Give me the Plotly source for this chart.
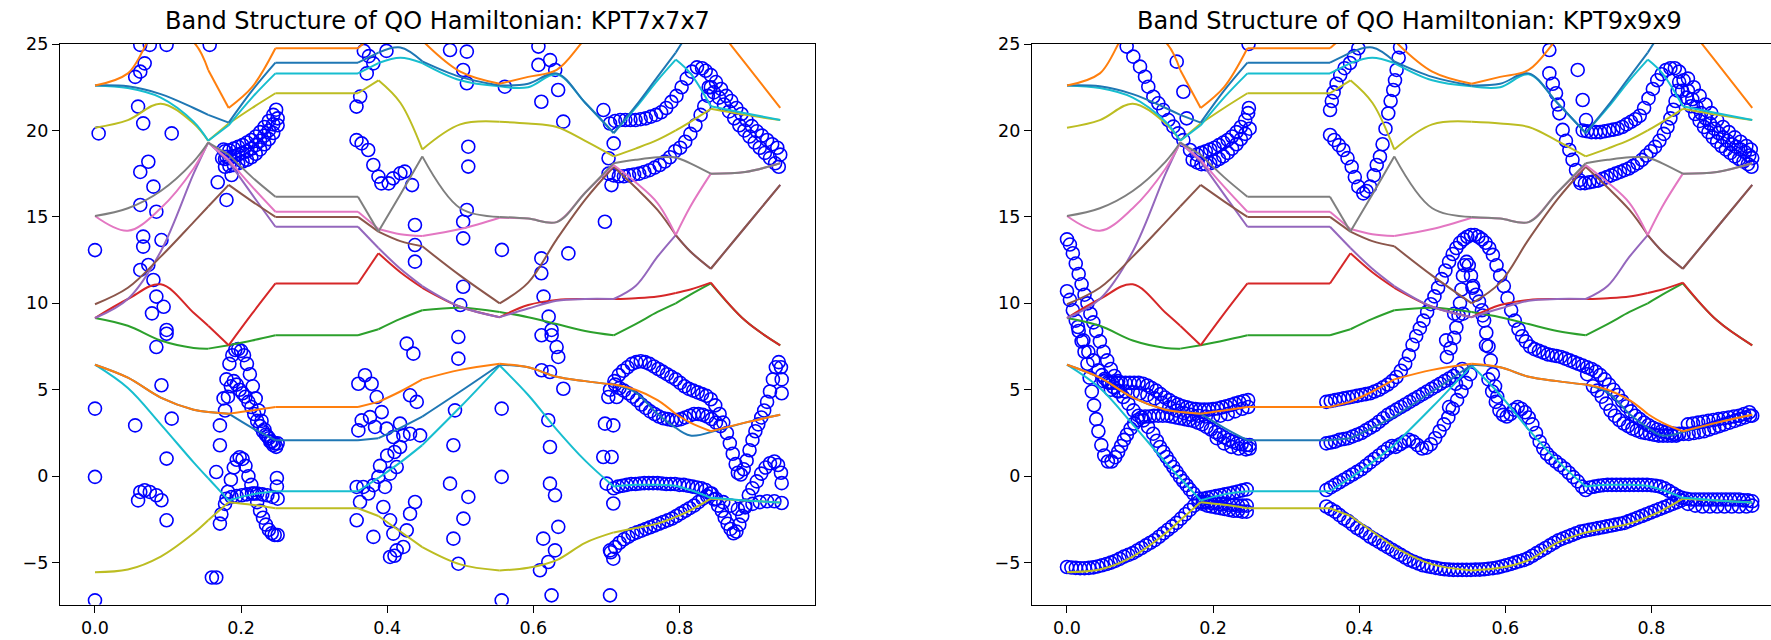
import plotly.graph_objects as go

# ---------------- band data (k-grid shared by both panels) ----------------
K_GRID = [0.0, 0.045, 0.09, 0.135, 0.155, 0.183, 0.215, 0.247, 0.36, 0.388, 0.418, 0.448,
          0.5, 0.554, 0.593, 0.632, 0.671, 0.71, 0.74, 0.77, 0.795, 0.815, 0.843, 0.89, 0.938]
SEGMENT_BREAKS = [0, 4, 5, 7, 8, 9, 11, 13, 17, 20, 22, 24]

OLIVE_LO = [-5.55, -5.4, -4.65, -3.3, -2.55, -1.5, -1.65, -1.85, -1.85, -2.3, -3.2, -4.1, -5.1, -5.45, -5.3, -4.85, -3.85, -3.25, -3.0, -2.74, -2.35, -1.97, -1.3, -1.4, -1.52]
CYAN_LO = [6.45, 5.1, 3.0, 0.8, -0.12, -1.4, -1.05, -0.87, -0.87, -0.1, 0.8, 1.8, 4.0, 6.4, 4.7, 2.7, 0.9, -0.6, -0.5, -0.5, -0.55, -0.8, -1.25, -1.4, -1.52]
BLUE_LO = [6.45, 5.7, 4.55, 3.85, 3.72, 3.62, 2.8, 2.08, 2.08, 2.2, 2.8, 3.45, 4.9, 6.45, 6.3, 5.75, 5.5, 5.3, 4.85, 3.6, 2.8, 2.35, 2.55, 3.1, 3.55]
ORANGE_LO = [6.45, 5.7, 4.55, 3.85, 3.72, 3.62, 3.8, 4.0, 4.0, 4.3, 4.9, 5.6, 6.15, 6.5, 6.3, 5.75, 5.5, 5.3, 5.0, 4.4, 3.6, 3.1, 2.6, 3.1, 3.55]
GREEN = [9.15, 8.7, 7.85, 7.42, 7.38, 7.57, 7.85, 8.15, 8.15, 8.5, 9.1, 9.6, 9.75, 9.5, 9.2, 8.8, 8.4, 8.15, 8.8, 9.5, 10.0, 10.5, 11.15, 9.0, 7.57]
RED = [9.15, 10.25, 11.1, 9.45, 8.7, 7.57, 9.4, 11.15, 11.15, 12.9, 11.8, 10.9, 9.8, 9.2, 9.9, 10.2, 10.25, 10.25, 10.3, 10.4, 10.6, 10.8, 11.2, 9.0, 7.57]
PURPLE = [9.15, 10.25, 13.0, 17.5, 19.3, 18.2, 16.3, 14.43, 14.43, 13.2, 12.0, 11.0, 9.8, 9.2, 9.7, 10.15, 10.25, 10.25, 11.0, 12.7, 13.95, 13.0, 12.0, 14.4, 16.85]
BROWN = [9.95, 10.9, 12.7, 14.7, 15.6, 16.85, 15.9, 15.0, 15.0, 14.15, 13.6, 13.3, 11.6, 10.0, 11.2, 13.7, 16.0, 17.9, 16.7, 15.4, 13.95, 13.0, 12.0, 14.4, 16.85]
PINK = [15.05, 14.2, 15.5, 17.8, 19.3, 18.3, 16.75, 15.3, 15.3, 14.3, 14.0, 13.9, 14.3, 14.95, 14.9, 14.7, 16.4, 18.0, 17.0, 15.8, 13.95, 15.6, 17.5, 17.6, 18.1]
GRAY = [15.05, 15.5, 16.5, 18.2, 19.3, 18.6, 17.3, 16.17, 16.17, 14.15, 16.3, 18.5, 15.5, 15.0, 14.9, 14.7, 16.4, 18.1, 18.3, 18.45, 18.45, 18.1, 17.5, 17.6, 18.1]
OLIVE_HI = [20.15, 20.6, 21.55, 20.4, 19.4, 20.4, 21.3, 22.15, 22.15, 22.9, 21.6, 18.9, 20.35, 20.5, 20.4, 20.2, 19.4, 18.5, 18.95, 19.45, 20.0, 20.5, 21.25, 20.9, 20.6]
CYAN_HI = [22.6, 22.45, 21.9, 20.5, 19.4, 20.3, 21.9, 23.3, 23.3, 23.9, 24.2, 23.9, 22.9, 22.55, 22.5, 23.25, 21.6, 19.85, 21.3, 22.9, 24.1, 23.3, 21.4, 21.0, 20.6]
BLUE_HI = [22.6, 22.55, 22.1, 21.3, 20.9, 20.45, 22.3, 23.92, 23.92, 24.5, 24.8, 24.0, 23.1, 22.6, 22.7, 23.3, 21.6, 19.85, 21.4, 23.1, 24.5, 25.8, 27.4, 29.0, 30.0]
ORANGE_HI = [22.6, 23.3, 26.0, 25.1, 23.5, 21.3, 22.5, 24.75, 24.75, 25.8, 26.2, 25.2, 23.4, 22.7, 23.1, 23.5, 25.3, 27.0, 28.0, 28.0, 28.0, 27.6, 26.4, 23.9, 21.3]

BANDS = [OLIVE_LO, CYAN_LO, BLUE_LO, ORANGE_LO, GREEN, RED, PURPLE, BROWN,
         PINK, GRAY, OLIVE_HI, CYAN_HI, BLUE_HI, ORANGE_HI]
BAND_COLORS = ["#bcbd22", "#17becf", "#1f77b4", "#ff7f0e", "#2ca02c", "#d62728", "#9467bd",
               "#8c564b", "#e377c2", "#7f7f7f", "#bcbd22", "#17becf", "#1f77b4", "#ff7f0e"]

# ---------------- scatter data, KPT7x7x7 (left) ----------------
L_SPARSE = [
    [0.005, 19.83], [0.0, 13.08], [0.055, 23.1], [0.062, 23.4], [0.068, 23.88], [0.059, 21.38], [0.066, 20.41],
    [0.062, 24.95], [0.075, 24.95], [0.098, 24.95], [0.157, 24.95], [0.105, 19.83], [0.073, 18.19], [0.062, 17.6],
    [0.08, 16.75], [0.062, 15.69], [0.084, 15.3], [0.066, 13.86], [0.066, 13.28], [0.091, 13.66], [0.073, 12.22],
    [0.062, 11.93], [0.08, 11.35], [0.084, 10.39], [0.078, 9.42], [0.094, 9.8], [0.098, 8.46],
    [0.18, 18.48], [0.187, 17.42], [0.18, 15.98], [0.168, 17.0], [0.176, 18.9],
    [0.358, 21.38], [0.363, 21.96], [0.372, 23.3], [0.381, 23.88], [0.399, 24.6], [0.375, 24.3], [0.368, 24.6],
    [0.358, 19.44], [0.365, 19.25], [0.374, 18.87], [0.381, 18.0], [0.388, 17.33], [0.392, 16.94], [0.402, 16.94],
    [0.408, 17.23], [0.418, 17.52], [0.424, 17.62], [0.434, 16.84], [0.438, 14.53], [0.438, 13.37], [0.438, 12.41],
    [0.486, 24.65], [0.509, 24.56], [0.504, 23.5], [0.509, 22.73], [0.561, 22.53], [0.607, 24.85], [0.607, 23.79],
    [0.623, 24.07], [0.63, 23.5], [0.634, 22.34], [0.611, 21.66], [0.641, 20.51], [0.511, 19.06], [0.511, 17.91],
    [0.696, 21.18], [0.71, 19.25], [0.703, 18.39], [0.707, 16.84], [0.698, 14.72], [0.509, 15.4], [0.504, 14.72],
    [0.504, 13.76], [0.557, 13.09], [0.611, 12.6], [0.648, 12.89], [0.611, 11.74], [0.504, 10.96], [0.5, 9.9],
    [0.614, 10.39], [0.621, 9.23], [0.625, 8.46],
    [0.0, 3.91], [0.0, -0.04], [0.0, -7.18], [0.055, 2.94], [0.059, -1.4], [0.062, -0.91], [0.068, -0.81],
    [0.075, -0.91], [0.084, -1.1], [0.091, -1.39], [0.098, -2.55], [0.098, 1.02], [0.105, 3.33], [0.091, 5.26],
    [0.084, 7.47], [0.098, 8.24], [0.16, -5.86], [0.166, -5.86], [0.171, 2.94], [0.171, 1.79], [0.166, 0.24],
    [0.171, -2.74], [0.173, -2.2],
    [0.3605, 5.35], [0.3696, 5.84], [0.3787, 5.35], [0.3856, 4.58], [0.3605, 2.65], [0.3651, 3.23], [0.3765, 3.42],
    [0.3833, 2.85], [0.3925, 3.71], [0.3993, 2.75], [0.4084, 2.27], [0.4176, 3.04], [0.4221, 2.36], [0.4313, 2.46],
    [0.445, 2.36], [0.3582, -0.62], [0.3628, -1.49], [0.3673, -0.62], [0.3742, -1.0], [0.3811, -0.52], [0.3879, -0.04],
    [0.397, -0.62], [0.4039, 0.15], [0.413, 0.53], [0.4176, 1.69], [0.3902, 0.6], [0.3947, -1.78], [0.4039, -2.55],
    [0.4084, -3.32], [0.413, -4.29], [0.4039, -4.67], [0.4221, -4.09], [0.4267, -3.13], [0.4313, -2.17],
    [0.4381, -1.49], [0.4404, 4.3], [0.4313, 4.68], [0.4267, 7.67], [0.4358, 7.09], [0.3582, -2.55], [0.3811, -3.51],
    [0.41, -4.6], [0.4, 1.2], [0.41, 1.4],
    [0.4974, 8.05], [0.4974, 6.8], [0.4928, 3.81], [0.4906, 1.79], [0.486, -0.43], [0.5111, -1.2], [0.5043, -2.45],
    [0.4906, -3.61], [0.4974, -5.06], [0.5567, 3.91], [0.5567, -0.04], [0.5567, -7.18], [0.6113, 8.15], [0.6251, 8.15],
    [0.6319, 7.47], [0.6342, 6.9], [0.6113, 6.13], [0.6228, 6.03], [0.6411, 5.06], [0.6205, 3.24], [0.6228, 1.69],
    [0.6228, -0.43], [0.6297, -1.1], [0.6342, -2.93], [0.6136, -3.61], [0.6297, -4.29], [0.6205, -4.96],
    [0.6091, -5.44], [0.625, -6.89], [0.7027, 4.58], [0.7141, 4.58], [0.6981, 3.04], [0.7095, 2.94], [0.6958, 1.11],
    [0.7072, 1.11], [0.7004, -0.43], [0.7095, -1.58], [0.705, -4.29], [0.7095, -4.77], [0.705, -6.89],
]
L_BLOB_TOP = [
    [0.178, 17.9], [0.184, 17.95], [0.19, 18.0], [0.196, 18.1], [0.202, 18.2], [0.208, 18.3], [0.214, 18.45],
    [0.22, 18.65], [0.226, 18.9], [0.232, 19.2], [0.238, 19.5], [0.244, 19.85], [0.25, 20.3],
    [0.178, 18.35], [0.184, 18.4], [0.19, 18.5], [0.196, 18.6], [0.202, 18.7], [0.208, 18.8], [0.214, 18.95],
    [0.22, 19.15], [0.226, 19.4], [0.232, 19.7], [0.238, 20.0], [0.244, 20.35], [0.25, 20.7],
    [0.178, 18.8], [0.184, 18.85], [0.19, 18.95], [0.196, 19.05], [0.202, 19.15], [0.208, 19.3], [0.214, 19.45],
    [0.22, 19.65], [0.226, 19.9], [0.232, 20.2], [0.238, 20.55], [0.244, 20.9], [0.248, 21.2], [0.174, 18.4],
]
L_ARCHES = [
    [0.176, 4.5], [0.18, 5.6], [0.184, 6.5], [0.188, 7.0], [0.192, 7.3], [0.196, 7.35], [0.2, 7.25], [0.204, 7.0],
    [0.208, 6.5], [0.212, 5.9], [0.216, 5.2], [0.22, 4.5], [0.224, 3.8], [0.228, 3.2], [0.232, 2.7], [0.236, 2.3],
    [0.24, 2.0], [0.244, 1.8], [0.248, 1.7],
    [0.178, 3.8], [0.182, 4.6], [0.186, 5.2], [0.19, 5.5], [0.194, 5.3], [0.198, 5.0], [0.202, 4.8], [0.206, 4.6],
    [0.21, 4.3], [0.214, 4.0], [0.218, 3.6], [0.222, 3.2], [0.226, 2.9], [0.23, 2.6], [0.234, 2.4], [0.238, 2.2],
    [0.242, 2.0], [0.246, 1.9], [0.25, 1.9],
    [0.178, -1.6], [0.182, -0.9], [0.186, -0.2], [0.19, 0.5], [0.194, 0.95], [0.198, 1.1], [0.202, 1.0],
    [0.206, 0.6], [0.21, 0.0], [0.214, -0.5], [0.218, -1.0], [0.222, -1.5], [0.226, -2.0], [0.23, -2.4],
    [0.234, -2.8], [0.238, -3.1], [0.242, -3.3], [0.246, -3.4], [0.25, -3.4],
    [0.18, -1.3], [0.187, -1.2], [0.194, -1.15], [0.201, -1.1], [0.208, -1.05], [0.215, -1.0], [0.222, -1.0],
    [0.229, -1.05], [0.236, -1.1], [0.243, -1.2], [0.25, -1.3], [0.249, -0.1], [0.249, -0.6],
]
L_RIGHT_UPPER = [
    [0.705, 20.4], [0.712, 20.55], [0.719, 20.6], [0.726, 20.6], [0.733, 20.6], [0.74, 20.6], [0.747, 20.65],
    [0.754, 20.7], [0.761, 20.8], [0.768, 20.9], [0.775, 21.05], [0.782, 21.3], [0.789, 21.65], [0.796, 22.0],
    [0.803, 22.5], [0.81, 23.0], [0.817, 23.4], [0.824, 23.65], [0.831, 23.6],
    [0.836, 23.45], [0.843, 23.2], [0.85, 22.8], [0.857, 22.4], [0.864, 22.0], [0.871, 21.7], [0.878, 21.3],
    [0.885, 20.95], [0.892, 20.6], [0.899, 20.25], [0.906, 19.95], [0.913, 19.7], [0.92, 19.45], [0.927, 19.2],
    [0.934, 19.0], [0.938, 18.6],
    [0.84, 22.5], [0.847, 22.2], [0.854, 21.9], [0.861, 21.5], [0.868, 21.1], [0.875, 20.7], [0.882, 20.3],
    [0.889, 20.0], [0.896, 19.65], [0.903, 19.3], [0.91, 19.0], [0.917, 18.7], [0.924, 18.4], [0.931, 18.1],
    [0.936, 17.9],
    [0.703, 17.5], [0.71, 17.4], [0.717, 17.35], [0.724, 17.35], [0.731, 17.4], [0.738, 17.45], [0.745, 17.5],
    [0.752, 17.6], [0.759, 17.7], [0.766, 17.85], [0.773, 18.0], [0.78, 18.2], [0.787, 18.45], [0.794, 18.8],
    [0.801, 19.0], [0.808, 19.35], [0.815, 19.8], [0.822, 20.3], [0.829, 20.9], [0.834, 21.4], [0.839, 22.0],
    [0.843, 22.5],
]
L_RIGHT_LOWER = [
    [0.705, 5.0], [0.711, 5.5], [0.717, 5.85], [0.723, 6.1], [0.729, 6.3], [0.735, 6.5], [0.741, 6.6],
    [0.747, 6.65], [0.753, 6.6], [0.759, 6.5], [0.765, 6.35], [0.771, 6.2], [0.777, 6.05], [0.783, 5.9],
    [0.789, 5.75], [0.795, 5.6], [0.801, 5.4], [0.807, 5.2], [0.813, 5.05], [0.819, 4.95], [0.825, 4.85],
    [0.831, 4.75], [0.837, 4.65], [0.843, 4.45], [0.849, 4.1], [0.855, 3.6], [0.86, 3.1], [0.865, 2.5],
    [0.869, 1.9], [0.873, 1.3], [0.877, 0.7], [0.88, 0.2], [0.884, 0.1], [0.888, 0.4], [0.892, 0.9],
    [0.896, 1.5], [0.9, 2.1], [0.904, 2.6], [0.908, 3.0], [0.912, 3.4], [0.916, 3.8], [0.92, 4.3],
    [0.924, 4.9], [0.928, 5.6], [0.932, 6.3], [0.936, 6.6], [0.939, 6.3], [0.94, 5.6], [0.94, 4.8],
    [0.712, 5.3], [0.718, 5.1], [0.724, 4.95], [0.73, 4.8], [0.736, 4.6], [0.742, 4.4], [0.748, 4.15],
    [0.754, 3.95], [0.76, 3.75], [0.766, 3.6], [0.772, 3.45], [0.778, 3.35], [0.784, 3.3], [0.79, 3.25],
    [0.796, 3.25], [0.802, 3.3], [0.808, 3.4], [0.814, 3.5], [0.82, 3.6], [0.826, 3.6], [0.832, 3.55],
    [0.838, 3.45], [0.844, 3.3], [0.85, 3.1], [0.856, 2.9],
    [0.71, -0.7], [0.716, -0.6], [0.722, -0.55], [0.728, -0.5], [0.734, -0.45], [0.74, -0.45], [0.746, -0.42],
    [0.752, -0.4], [0.758, -0.4], [0.764, -0.4], [0.77, -0.4], [0.776, -0.42], [0.782, -0.45], [0.788, -0.45],
    [0.794, -0.45], [0.8, -0.5], [0.806, -0.5], [0.812, -0.55], [0.818, -0.6], [0.824, -0.65], [0.83, -0.7],
    [0.836, -0.8], [0.842, -1.0], [0.848, -1.35], [0.853, -1.7], [0.858, -2.0], [0.862, -2.4], [0.866, -2.75],
    [0.87, -3.05], [0.874, -3.3], [0.878, -3.2], [0.882, -2.8], [0.886, -2.3], [0.89, -1.7], [0.895, -1.1],
    [0.9, -0.7], [0.906, -0.3], [0.912, 0.15], [0.918, 0.5], [0.924, 0.75], [0.93, 0.85], [0.935, 0.65],
    [0.939, 0.2], [0.94, -0.4],
    [0.706, -4.4], [0.712, -4.1], [0.718, -3.85], [0.724, -3.65], [0.73, -3.5], [0.736, -3.35], [0.742, -3.25],
    [0.748, -3.15], [0.754, -3.05], [0.76, -2.95], [0.766, -2.85], [0.772, -2.75], [0.778, -2.65], [0.784, -2.55],
    [0.79, -2.45], [0.796, -2.3], [0.802, -2.15], [0.808, -2.0], [0.814, -1.85], [0.82, -1.7], [0.826, -1.5],
    [0.832, -1.3], [0.838, -1.15], [0.844, -1.0],
    [0.85, -1.3], [0.86, -1.5], [0.87, -1.7], [0.88, -1.9], [0.89, -1.8], [0.9, -1.6], [0.91, -1.5],
    [0.92, -1.45], [0.93, -1.45], [0.94, -1.55],
]

# ---------------- scatter data, KPT9x9x9 (right) ----------------
R_LOW_START = [
    [0.0, -5.25], [0.006, -5.28], [0.012, -5.3], [0.018, -5.32], [0.024, -5.32], [0.03, -5.3], [0.036, -5.27],
    [0.042, -5.22], [0.048, -5.15], [0.054, -5.08], [0.06, -5.0], [0.066, -4.9], [0.072, -4.78], [0.078, -4.65],
    [0.084, -4.55], [0.09, -4.45], [0.096, -4.3], [0.102, -4.15], [0.108, -4.0], [0.114, -3.85], [0.12, -3.7],
    [0.126, -3.5], [0.132, -3.3], [0.138, -3.1], [0.144, -2.9], [0.15, -2.7], [0.156, -2.45], [0.162, -2.2],
    [0.168, -1.95], [0.174, -1.7], [0.18, -1.5],
    [0.186, -1.3], [0.192, -1.25], [0.198, -1.2], [0.204, -1.15], [0.21, -1.1], [0.216, -1.05], [0.222, -1.0],
    [0.228, -0.95], [0.234, -0.88], [0.24, -0.82], [0.246, -0.76],
    [0.186, -1.5], [0.192, -1.5], [0.198, -1.55], [0.204, -1.55], [0.21, -1.6], [0.216, -1.6], [0.222, -1.65],
    [0.228, -1.65], [0.234, -1.7], [0.24, -1.7], [0.246, -1.7],
    [0.186, -1.6], [0.192, -1.7], [0.198, -1.75], [0.204, -1.8], [0.21, -1.85], [0.216, -1.9], [0.222, -1.95],
    [0.228, -2.0], [0.234, -2.0], [0.24, -2.05], [0.246, -2.05],
]
R_LEFT_CHAINS = [
    [0.0, 13.7], [0.004, 13.4], [0.008, 12.9], [0.012, 12.3], [0.016, 11.7], [0.02, 11.1], [0.024, 10.5],
    [0.028, 10.0], [0.032, 9.4], [0.036, 8.9], [0.04, 8.4], [0.045, 7.8], [0.05, 7.2], [0.055, 6.7], [0.06, 6.2],
    [0.065, 5.8], [0.07, 5.5],
    [0.0, 10.7], [0.004, 10.2], [0.008, 9.6], [0.012, 9.0], [0.016, 8.4], [0.02, 7.8], [0.024, 7.2], [0.028, 6.5],
    [0.031, 5.7], [0.034, 4.9], [0.037, 4.1], [0.04, 3.3], [0.043, 2.6], [0.047, 1.8], [0.051, 1.2], [0.056, 0.85],
    [0.061, 0.85], [0.066, 1.1], [0.07, 1.4], [0.074, 1.75], [0.078, 2.1], [0.082, 2.4], [0.087, 2.75],
    [0.092, 3.05], [0.097, 3.25], [0.102, 3.4], [0.107, 3.45],
    [0.113, 3.45], [0.119, 3.5], [0.125, 3.5], [0.131, 3.5], [0.137, 3.5], [0.143, 3.45], [0.149, 3.4],
    [0.155, 3.35], [0.161, 3.3], [0.167, 3.25], [0.173, 3.2], [0.179, 3.1], [0.185, 3.0], [0.191, 2.85],
    [0.197, 2.7], [0.203, 2.55], [0.209, 2.4], [0.215, 2.25], [0.221, 2.1], [0.227, 2.0], [0.233, 1.9],
    [0.239, 1.85], [0.245, 1.8], [0.25, 1.8], [0.205, 2.2], [0.215, 1.9], [0.225, 1.7], [0.235, 1.6],
    [0.245, 1.55], [0.25, 1.6],
    [0.015, 8.63], [0.0224, 7.86], [0.0292, 7.19], [0.036, 6.7], [0.043, 6.12], [0.048, 5.85], [0.052, 5.64],
    [0.058, 5.4], [0.0634, 5.16], [0.07, 4.9], [0.077, 4.58], [0.084, 4.2], [0.091, 3.81], [0.098, 3.5],
    [0.1045, 3.23], [0.111, 2.85], [0.118, 2.46], [0.123, 2.05], [0.1273, 1.69], [0.132, 1.4], [0.1364, 1.11],
    [0.141, 0.82], [0.1456, 0.53], [0.15, 0.25], [0.1547, -0.04], [0.159, -0.28], [0.1638, -0.52], [0.168, -0.76],
    [0.173, -1.0], [0.1798, -1.29],
    [0.05, 5.5], [0.056, 5.45], [0.062, 5.4], [0.068, 5.4], [0.074, 5.4], [0.08, 5.4], [0.086, 5.4], [0.092, 5.4],
    [0.098, 5.4], [0.104, 5.35], [0.11, 5.25], [0.116, 5.1], [0.122, 4.95], [0.128, 4.75], [0.134, 4.55],
    [0.14, 4.4], [0.146, 4.25], [0.152, 4.15], [0.158, 4.05], [0.164, 3.98], [0.17, 3.92], [0.176, 3.88],
    [0.182, 3.85], [0.188, 3.85], [0.194, 3.85], [0.2, 3.88], [0.206, 3.92], [0.212, 3.98], [0.218, 4.05],
    [0.224, 4.12], [0.23, 4.2], [0.236, 4.28], [0.242, 4.35], [0.248, 4.4],
    [0.06, 5.0], [0.07, 4.95], [0.08, 4.9], [0.09, 4.85], [0.1, 4.8], [0.11, 4.7], [0.12, 4.5], [0.13, 4.25],
    [0.14, 4.0], [0.15, 3.8], [0.16, 3.65], [0.17, 3.55], [0.18, 3.5], [0.19, 3.45], [0.2, 3.45], [0.21, 3.5],
    [0.22, 3.6], [0.23, 3.75], [0.24, 3.9], [0.248, 4.0],
]
R_UPPER_LEFT = [
    [0.0817, 24.85], [0.0908, 24.27], [0.1, 23.69], [0.1068, 23.11], [0.1113, 22.53], [0.1182, 21.95],
    [0.125, 21.57], [0.1318, 21.18], [0.1387, 20.6], [0.1456, 20.22], [0.1524, 19.83], [0.1593, 19.44],
    [0.1684, 18.87], [0.1502, 23.98], [0.1593, 22.24], [0.1638, 20.7], [0.2485, 25.0],
    [0.172, 18.3], [0.178, 18.15], [0.184, 18.05], [0.19, 18.05], [0.196, 18.1], [0.202, 18.2], [0.208, 18.35],
    [0.214, 18.5], [0.22, 18.7], [0.226, 18.95], [0.232, 19.2], [0.238, 19.5], [0.244, 19.8], [0.25, 20.1],
    [0.178, 18.6], [0.184, 18.7], [0.19, 18.8], [0.196, 18.9], [0.202, 19.0], [0.208, 19.15], [0.214, 19.3],
    [0.22, 19.45], [0.226, 19.65], [0.232, 19.9], [0.238, 20.2], [0.244, 20.6], [0.248, 21.0], [0.249, 21.3],
    [0.3601, 21.18], [0.3625, 21.7], [0.365, 22.2], [0.369, 22.7], [0.374, 23.2], [0.38, 23.6], [0.3874, 23.9],
    [0.393, 24.3], [0.3988, 24.75],
    [0.3601, 19.74], [0.366, 19.45], [0.3722, 19.15], [0.3783, 18.87], [0.384, 18.4], [0.3897, 17.9],
    [0.394, 17.3], [0.3988, 16.75], [0.4056, 16.36], [0.41, 16.5], [0.4148, 16.75], [0.42, 17.4], [0.424, 18.0],
    [0.4284, 18.48], [0.432, 19.2], [0.436, 20.1], [0.4398, 20.99], [0.443, 21.7], [0.4466, 22.34],
    [0.449, 22.9], [0.4512, 23.5], [0.454, 24.2], [0.456, 24.8],
]
R_MIDDLE = [
    [0.355, 4.3], [0.361, 4.35], [0.367, 4.4], [0.373, 4.45], [0.379, 4.5], [0.385, 4.55], [0.391, 4.6],
    [0.397, 4.65], [0.403, 4.7], [0.409, 4.75], [0.415, 4.8], [0.421, 4.9], [0.427, 5.0], [0.433, 5.15],
    [0.439, 5.3], [0.445, 5.5], [0.451, 5.74], [0.457, 6.1], [0.463, 6.5],
    [0.468, 7.0], [0.473, 7.6], [0.478, 8.1], [0.483, 8.55], [0.488, 9.0], [0.493, 9.5], [0.498, 9.95],
    [0.503, 10.4], [0.508, 10.9], [0.513, 11.4], [0.518, 11.9], [0.523, 12.4], [0.528, 12.85], [0.533, 13.2],
    [0.538, 13.5], [0.543, 13.7], [0.548, 13.85], [0.553, 13.95], [0.558, 13.95], [0.563, 13.85], [0.568, 13.7],
    [0.573, 13.5], [0.578, 13.2], [0.583, 12.8], [0.588, 12.2], [0.593, 11.6], [0.598, 11.0], [0.603, 10.3],
    [0.608, 9.6], [0.613, 9.0],
    [0.618, 8.5], [0.623, 8.1], [0.628, 7.8], [0.634, 7.5], [0.64, 7.35], [0.646, 7.25], [0.652, 7.15],
    [0.658, 7.05], [0.664, 7.0], [0.67, 6.95], [0.676, 6.9], [0.682, 6.8], [0.688, 6.7], [0.694, 6.6], [0.7, 6.5],
    [0.706, 6.4], [0.712, 6.3], [0.718, 6.2], [0.724, 6.05], [0.73, 5.85], [0.736, 5.6], [0.742, 5.3],
    [0.748, 5.0], [0.754, 4.7], [0.76, 4.35], [0.766, 4.05], [0.772, 3.75], [0.778, 3.5], [0.784, 3.3],
    [0.79, 3.1], [0.796, 2.95], [0.802, 2.8], [0.808, 2.7], [0.814, 2.6], [0.82, 2.55], [0.826, 2.5],
    [0.832, 2.45], [0.838, 2.45],
    [0.844, 2.45], [0.851, 2.45], [0.858, 2.5], [0.865, 2.55], [0.872, 2.6], [0.879, 2.7], [0.886, 2.8],
    [0.893, 2.9], [0.9, 3.0], [0.907, 3.1], [0.914, 3.2], [0.921, 3.3], [0.928, 3.4], [0.935, 3.5],
    [0.85, 3.0], [0.857, 3.05], [0.864, 3.1], [0.871, 3.15], [0.878, 3.2], [0.885, 3.25], [0.892, 3.3],
    [0.899, 3.35], [0.906, 3.4], [0.913, 3.45], [0.92, 3.5], [0.927, 3.6], [0.934, 3.7], [0.938, 3.5],
    [0.712, 5.9], [0.72, 5.2], [0.726, 4.95], [0.732, 4.6], [0.738, 4.2], [0.744, 3.8], [0.75, 3.5],
    [0.756, 3.25], [0.762, 3.05], [0.768, 2.9], [0.774, 2.75], [0.78, 2.65], [0.786, 2.55], [0.792, 2.5],
    [0.798, 2.45], [0.804, 2.4], [0.81, 2.35], [0.816, 2.35], [0.822, 2.35], [0.828, 2.35], [0.834, 2.35],
    [0.355, 1.9], [0.361, 1.95], [0.367, 2.0], [0.373, 2.1], [0.379, 2.15], [0.385, 2.2], [0.391, 2.3],
    [0.397, 2.4], [0.403, 2.5], [0.409, 2.65], [0.415, 2.8], [0.421, 2.95], [0.427, 3.15], [0.433, 3.35],
    [0.439, 3.55], [0.445, 3.7], [0.451, 3.85], [0.457, 4.0], [0.463, 4.15], [0.469, 4.3], [0.475, 4.45],
    [0.481, 4.6], [0.487, 4.75], [0.493, 4.9], [0.499, 5.05], [0.505, 5.2], [0.511, 5.35], [0.517, 5.5],
    [0.523, 5.65], [0.529, 5.8], [0.535, 6.0], [0.541, 6.2],
    [0.52, 6.9], [0.525, 7.4], [0.53, 8.0], [0.533, 8.6], [0.536, 9.3], [0.538, 10.0], [0.54, 10.8],
    [0.542, 11.6], [0.544, 12.2], [0.547, 12.4], [0.55, 12.2], [0.553, 11.6], [0.556, 11.0], [0.56, 10.5],
    [0.564, 10.1], [0.568, 9.6], [0.571, 9.0], [0.574, 8.3], [0.577, 7.5], [0.58, 6.7], [0.583, 5.9],
    [0.586, 5.2], [0.589, 4.6], [0.53, 9.4], [0.542, 9.4], [0.569, 9.3], [0.555, 10.9], [0.519, 7.86],
    [0.5736, 7.57], [0.5325, 5.35], [0.523, 4.0],
    [0.45, 1.7], [0.456, 1.85], [0.462, 2.0], [0.468, 2.1], [0.474, 2.0], [0.48, 1.8], [0.486, 1.6],
    [0.492, 1.65], [0.498, 1.85], [0.504, 2.2], [0.51, 2.6], [0.516, 3.0], [0.522, 3.4], [0.528, 3.9],
    [0.534, 4.4], [0.54, 4.9], [0.546, 5.4], [0.552, 5.9],
    [0.355, -0.8], [0.361, -0.65], [0.367, -0.5], [0.373, -0.35], [0.379, -0.2], [0.385, -0.05], [0.391, 0.1],
    [0.397, 0.25], [0.403, 0.4], [0.409, 0.6], [0.415, 0.8], [0.421, 1.0], [0.427, 1.2], [0.433, 1.4],
    [0.439, 1.6], [0.445, 1.75],
    [0.577, 5.6], [0.582, 4.9], [0.587, 4.3], [0.592, 3.8], [0.597, 3.55], [0.602, 3.45], [0.607, 3.6],
    [0.612, 3.85], [0.617, 4.0], [0.622, 3.9], [0.627, 3.7], [0.632, 3.4], [0.637, 3.0], [0.642, 2.5],
    [0.647, 2.0], [0.652, 1.6], [0.657, 1.3], [0.663, 1.05], [0.669, 0.85], [0.675, 0.65], [0.681, 0.45],
    [0.687, 0.2], [0.693, -0.05], [0.699, -0.3], [0.705, -0.6], [0.71, -0.8],
]
R_LOWER_RIGHT = [
    [0.716, -0.65], [0.722, -0.6], [0.728, -0.55], [0.734, -0.52], [0.74, -0.5], [0.746, -0.5], [0.752, -0.5],
    [0.758, -0.5], [0.764, -0.5], [0.77, -0.5], [0.776, -0.5], [0.782, -0.5], [0.788, -0.5], [0.794, -0.5],
    [0.8, -0.52], [0.806, -0.55], [0.812, -0.6], [0.818, -0.7], [0.824, -0.85], [0.83, -1.0], [0.836, -1.15],
    [0.842, -1.25], [0.848, -1.3], [0.854, -1.35], [0.86, -1.35], [0.866, -1.35], [0.872, -1.35], [0.878, -1.35],
    [0.884, -1.35], [0.89, -1.35], [0.896, -1.35], [0.902, -1.35], [0.908, -1.35], [0.914, -1.35], [0.92, -1.35],
    [0.926, -1.4], [0.932, -1.4], [0.938, -1.45],
    [0.85, -1.6], [0.86, -1.7], [0.87, -1.75], [0.88, -1.75], [0.89, -1.75], [0.9, -1.75], [0.91, -1.75],
    [0.92, -1.75], [0.93, -1.75], [0.938, -1.7],
    [0.355, -1.75], [0.361, -1.9], [0.367, -2.05], [0.373, -2.25], [0.379, -2.45], [0.385, -2.6], [0.391, -2.8],
    [0.397, -3.0], [0.403, -3.15], [0.409, -3.3], [0.415, -3.5], [0.421, -3.65], [0.427, -3.8], [0.433, -3.95],
    [0.439, -4.1], [0.445, -4.25], [0.451, -4.4], [0.457, -4.55], [0.463, -4.7], [0.469, -4.85], [0.475, -4.95],
    [0.481, -5.05], [0.487, -5.15], [0.493, -5.2], [0.499, -5.25], [0.505, -5.3], [0.511, -5.35], [0.517, -5.38],
    [0.523, -5.4], [0.529, -5.42], [0.535, -5.42], [0.541, -5.42], [0.547, -5.42], [0.553, -5.42], [0.559, -5.4],
    [0.565, -5.4], [0.571, -5.38], [0.577, -5.35], [0.583, -5.32], [0.589, -5.28], [0.595, -5.22], [0.601, -5.15],
    [0.607, -5.08], [0.613, -5.0], [0.619, -4.92], [0.625, -4.85], [0.631, -4.75], [0.637, -4.6], [0.643, -4.45],
    [0.649, -4.3], [0.655, -4.15], [0.661, -4.0], [0.667, -3.85], [0.673, -3.7], [0.679, -3.6], [0.685, -3.5],
    [0.691, -3.4], [0.697, -3.3], [0.703, -3.2], [0.709, -3.15], [0.715, -3.1], [0.721, -3.05], [0.727, -3.0],
    [0.733, -2.95], [0.739, -2.9], [0.745, -2.85], [0.751, -2.8], [0.757, -2.75], [0.763, -2.7], [0.769, -2.6],
    [0.775, -2.5], [0.781, -2.4], [0.787, -2.3], [0.793, -2.2], [0.799, -2.1], [0.805, -2.0], [0.811, -1.9],
    [0.817, -1.8], [0.823, -1.7], [0.829, -1.6], [0.835, -1.5], [0.841, -1.4],
]
R_UPPER_RIGHT = [
    [0.6603, 24.65], [0.6603, 23.3], [0.665, 22.7], [0.6694, 22.15], [0.672, 21.5], [0.674, 20.99],
    [0.6785, 20.03], [0.683, 19.4], [0.6877, 18.87], [0.692, 18.3], [0.6968, 17.71], [0.7014, 17.13],
    [0.6991, 23.5], [0.7059, 21.76], [0.7105, 20.6],
    [0.706, 20.0], [0.712, 19.95], [0.718, 19.9], [0.724, 19.9], [0.73, 19.9], [0.736, 19.95], [0.742, 20.0],
    [0.748, 20.05], [0.754, 20.1], [0.76, 20.2], [0.766, 20.35], [0.772, 20.5], [0.778, 20.65], [0.784, 20.85],
    [0.79, 21.3], [0.796, 21.85], [0.802, 22.4], [0.808, 22.9], [0.814, 23.25], [0.82, 23.5], [0.826, 23.6],
    [0.832, 23.6],
    [0.838, 23.4], [0.844, 22.9], [0.85, 22.3], [0.856, 21.8], [0.862, 21.35], [0.868, 21.0], [0.874, 20.7],
    [0.88, 20.4], [0.886, 20.1], [0.892, 19.85], [0.898, 19.6], [0.904, 19.4], [0.91, 19.2], [0.916, 19.05],
    [0.922, 18.9], [0.928, 18.75], [0.934, 18.55], [0.938, 18.4],
    [0.842, 22.3], [0.848, 21.9], [0.854, 21.4], [0.86, 20.95], [0.866, 20.55], [0.872, 20.2], [0.878, 19.9],
    [0.884, 19.6], [0.89, 19.35], [0.896, 19.1], [0.902, 18.9], [0.908, 18.7], [0.914, 18.5], [0.92, 18.35],
    [0.926, 18.2], [0.932, 18.05], [0.937, 17.9],
    [0.85, 23.0], [0.858, 22.5], [0.866, 22.0], [0.874, 21.5], [0.882, 21.0], [0.89, 20.6], [0.898, 20.2],
    [0.906, 19.9], [0.914, 19.6], [0.922, 19.35], [0.93, 19.1], [0.936, 18.9],
    [0.703, 16.95], [0.709, 16.95], [0.715, 17.0], [0.721, 17.05], [0.727, 17.1], [0.733, 17.2], [0.739, 17.3],
    [0.745, 17.4], [0.751, 17.5], [0.757, 17.6], [0.763, 17.7], [0.769, 17.8], [0.775, 17.95], [0.781, 18.1],
    [0.787, 18.3], [0.793, 18.55], [0.799, 18.8], [0.805, 19.05], [0.811, 19.4], [0.817, 19.8], [0.822, 20.2],
    [0.826, 20.7], [0.83, 21.2], [0.833, 21.7], [0.836, 22.3], [0.838, 22.8],
]

LEFT_GROUPS = [L_SPARSE, L_BLOB_TOP, L_ARCHES, L_RIGHT_UPPER, L_RIGHT_LOWER]
RIGHT_GROUPS = [R_LOW_START, R_LEFT_CHAINS, R_UPPER_LEFT, R_MIDDLE, R_LOWER_RIGHT, R_UPPER_RIGHT]

TITLES = ["Band Structure of QO Hamiltonian: KPT7x7x7", "Band Structure of QO Hamiltonian: KPT9x9x9"]
X_TICKS = [0.0, 0.2, 0.4, 0.6, 0.8]
X_TICK_TEXT = ["0.0", "0.2", "0.4", "0.6", "0.8"]
Y_TICKS = [-5, 0, 5, 10, 15, 20, 25]
Y_TICK_TEXT = ["\u22125", "0", "5", "10", "15", "20", "25"]

# ---------------- build figure ----------------
W, H = 1771, 640
FONT = "DejaVu Sans"


def band_xy(vals):
    xs, ys = [], []
    for a, b in zip(SEGMENT_BREAKS[:-1], SEGMENT_BREAKS[1:]):
        xs += K_GRID[a:b + 1] + [None]
        ys += vals[a:b + 1] + [None]
    return xs, ys


fig = go.Figure()
for groups, xa, ya in [(LEFT_GROUPS, "x", "y"), (RIGHT_GROUPS, "x2", "y2")]:
    pts = [p for g in groups for p in g]
    fig.add_trace(go.Scatter(
        x=[p[0] for p in pts], y=[p[1] for p in pts], mode="markers",
        marker=dict(symbol="circle-open", size=13, color="#0000ff", line=dict(width=1.6)),
        xaxis=xa, yaxis=ya, hoverinfo="skip"))
    for vals, col in zip(BANDS, BAND_COLORS):
        bx, by = band_xy(vals)
        fig.add_trace(go.Scatter(
            x=bx, y=by, mode="lines", line=dict(color=col, width=2, shape="spline"),
            connectgaps=False, xaxis=xa, yaxis=ya, hoverinfo="skip"))

y_dom = [1 - 604.5 / H, 1 - 44 / H]
axis_common = dict(showline=True, linecolor="black", linewidth=1.2, ticks="outside", ticklen=7,
                   tickwidth=1.2, tickcolor="black", showgrid=False, zeroline=False,
                   tickfont=dict(family=FONT, size=17.5, color="black"))

fig.update_layout(
    width=W, height=H, margin=dict(l=0, r=0, t=0, b=0, autoexpand=False),
    paper_bgcolor="white", plot_bgcolor="white", showlegend=False,
    xaxis=dict(domain=[60 / W, 815 / W], range=[-0.0479, 0.9856], anchor="y", mirror=True,
               tickvals=X_TICKS, ticktext=X_TICK_TEXT, **axis_common),
    yaxis=dict(domain=y_dom, range=[-7.42, 25], anchor="x", mirror=True,
               tickvals=Y_TICKS, ticktext=Y_TICK_TEXT, **axis_common),
    xaxis2=dict(domain=[1032 / W, 1.0], range=[-0.0479, 0.9637], anchor="y2", mirror=True,
                tickvals=X_TICKS, ticktext=X_TICK_TEXT, **axis_common),
    yaxis2=dict(domain=y_dom, range=[-7.42, 25], anchor="x2", mirror=False,
                tickvals=Y_TICKS, ticktext=Y_TICK_TEXT, **axis_common),
)
for title, cx in zip(TITLES, [437.5, 1409.5]):
    fig.add_annotation(text=title, x=cx / W, y=1 - 21 / H, xref="paper", yref="paper",
                       xanchor="center", yanchor="middle", showarrow=False,
                       font=dict(family=FONT, size=24, color="black"))

fig.write_html(
    "out.html",
    config={"displayModeBar": False},
    post_script="document.body.style.margin='0px';document.body.style.overflow='hidden';",
)
